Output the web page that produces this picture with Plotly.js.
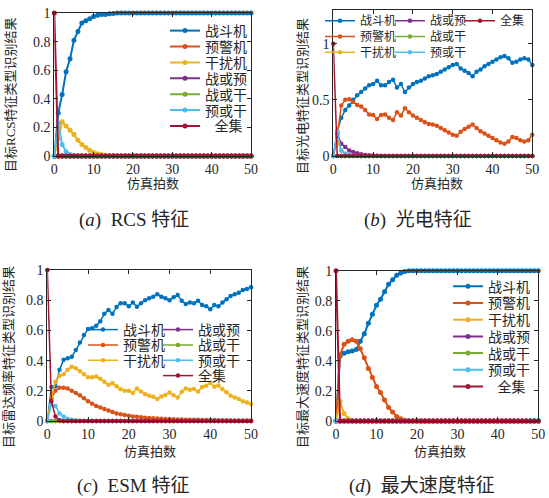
<!DOCTYPE html>
<html><head><meta charset="utf-8">
<script src="https://cdn.plot.ly/plotly-3.0.1.min.js"></script>
<style>html,body{margin:0;padding:0;background:#fff}#chart{width:549px;height:498px}</style>
</head><body><div id="chart"></div>
<script>
// ---------------- DATA ----------------
const steps = [0,1,2,3,4,5,6,7,8,9,10,11,12,13,14,15,16,17,18,19,20,21,22,23,24,25,26,27,28,29,30,31,32,33,34,35,36,37,38,39,40,41,42,43,44,45,46,47,48,49,50];
const seriesNames = ['战斗机','预警机','干扰机','战或预','战或干','预或干','全集'];
const xTicks = [0,10,20,30,40,50];
const yTicksA = [0,0.2,0.4,0.6,0.8,1];
const yTicksB = [0,0.5,1];
const captions = ['(<i>a</i>)\u00a0 RCS\u00a0特征','(<i>b</i>)\u00a0 光电特征','(<i>c</i>)\u00a0 ESM\u00a0特征','(<i>d</i>)\u00a0 最大速度特征'];
const yTitles = ['目标RCS特征类型识别结果','目标光电特征类型识别结果','目标雷达频率特征类型识别结果','目标最大速度特征类型识别结果'];
const xTitle = '仿真拍数';

// (a) RCS
const rcsFighter = [0,0.30,0.43,0.59,0.68,0.81,0.87,0.93,0.945,0.96, 0.975,0.985,0.99,0.99,0.995,0.997,1,1,1,1, 1,1,1,1,1,1,1,1,1,1, 1,1,1,1,1,1,1,1,1,1, 1,1,1,1,1,1,1,1,1,1, 1];
const rcsEarly   = [0,0,0,0,0,0,0,0,0,0, 0,0,0,0,0,0,0,0,0,0, 0,0,0,0,0,0,0,0,0,0, 0,0,0,0,0,0,0,0,0,0, 0,0,0,0,0,0,0,0,0,0, 0];
const rcsJammer  = [0,0.12,0.24,0.21,0.18,0.15,0.11,0.08,0.06,0.04, 0.025,0.015,0.01,0.006,0.004,0.002,0,0,0,0, 0,0,0,0,0,0,0,0,0,0, 0,0,0,0,0,0,0,0,0,0, 0,0,0,0,0,0,0,0,0,0, 0];
const rcsFE      = [0,0,0,0,0,0,0,0,0,0, 0,0,0,0,0,0,0,0,0,0, 0,0,0,0,0,0,0,0,0,0, 0,0,0,0,0,0,0,0,0,0, 0,0,0,0,0,0,0,0,0,0, 0];
const rcsFJ      = [0,0,0,0,0,0,0,0,0,0, 0,0,0,0,0,0,0,0,0,0, 0,0,0,0,0,0,0,0,0,0, 0,0,0,0,0,0,0,0,0,0, 0,0,0,0,0,0,0,0,0,0, 0];
const rcsEJ      = [0,0.23,0.08,0.03,0.01,0.003,0,0,0,0, 0,0,0,0,0,0,0,0,0,0, 0,0,0,0,0,0,0,0,0,0, 0,0,0,0,0,0,0,0,0,0, 0,0,0,0,0,0,0,0,0,0, 0];
const rcsAll     = [1,0,0,0,0,0,0,0,0,0, 0,0,0,0,0,0,0,0,0,0, 0,0,0,0,0,0,0,0,0,0, 0,0,0,0,0,0,0,0,0,0, 0,0,0,0,0,0,0,0,0,0, 0];

// (b) electro-optical
const eoFighter = [0,0.22,0.34,0.41,0.45,0.50,0.54,0.57,0.60,0.63, 0.64,0.67,0.63,0.63,0.66,0.68,0.61,0.64,0.57,0.61, 0.64,0.66,0.67,0.69,0.71,0.72,0.73,0.75,0.77,0.79, 0.81,0.82,0.78,0.76,0.74,0.71,0.75,0.77,0.80,0.82, 0.84,0.86,0.88,0.89,0.87,0.83,0.84,0.86,0.87,0.86, 0.81];
const eoEarly   = [0,0.18,0.45,0.50,0.505,0.48,0.455,0.44,0.41,0.37, 0.365,0.33,0.365,0.37,0.34,0.32,0.39,0.36,0.425,0.39, 0.36,0.34,0.32,0.30,0.285,0.28,0.27,0.25,0.23,0.21, 0.19,0.18,0.215,0.24,0.26,0.28,0.25,0.22,0.20,0.18, 0.16,0.14,0.12,0.11,0.13,0.17,0.16,0.14,0.13,0.14, 0.19];
const eoJammer  = [0,0.13,0.05,0.02,0.008,0.003,0,0,0,0, 0,0,0,0,0,0,0,0,0,0, 0,0,0,0,0,0,0,0,0,0, 0,0,0,0,0,0,0,0,0,0, 0,0,0,0,0,0,0,0,0,0, 0];
const eoFE      = [0,0.20,0.11,0.08,0.05,0.035,0.025,0.015,0.01,0.006, 0.004,0.002,0,0,0,0,0,0,0,0, 0,0,0,0,0,0,0,0,0,0, 0,0,0,0,0,0,0,0,0,0, 0,0,0,0,0,0,0,0,0,0, 0];
const eoFJ      = [0,0,0,0,0,0,0,0,0,0, 0,0,0,0,0,0,0,0,0,0, 0,0,0,0,0,0,0,0,0,0, 0,0,0,0,0,0,0,0,0,0, 0,0,0,0,0,0,0,0,0,0, 0];
const eoEJ      = [0,0.22,0.05,0.02,0.008,0.003,0,0,0,0, 0,0,0,0,0,0,0,0,0,0, 0,0,0,0,0,0,0,0,0,0, 0,0,0,0,0,0,0,0,0,0, 0,0,0,0,0,0,0,0,0,0, 0];
const eoAll     = [1,0,0,0,0,0,0,0,0,0, 0,0,0,0,0,0,0,0,0,0, 0,0,0,0,0,0,0,0,0,0, 0,0,0,0,0,0,0,0,0,0, 0,0,0,0,0,0,0,0,0,0, 0];

// (c) ESM
const esmFighter = [0,0.225,0.23,0.34,0.405,0.415,0.425,0.47,0.52,0.57, 0.61,0.615,0.63,0.66,0.71,0.735,0.71,0.755,0.78,0.78, 0.76,0.785,0.757,0.78,0.80,0.813,0.823,0.84,0.823,0.813, 0.80,0.82,0.834,0.797,0.775,0.784,0.78,0.797,0.768,0.76, 0.74,0.768,0.76,0.784,0.806,0.828,0.84,0.85,0.868,0.875, 0.885];
const esmEarly   = [0,0.15,0.20,0.22,0.22,0.215,0.20,0.185,0.17,0.15, 0.13,0.115,0.10,0.09,0.08,0.07,0.06,0.05,0.045,0.04, 0.035,0.03,0.028,0.025,0.022,0.02,0.018,0.016,0.015,0.014, 0.012,0.011,0.01,0.01,0.009,0.009,0.008,0.008,0.007,0.007, 0.006,0.006,0.005,0.005,0.005,0.004,0.004,0.004,0.003,0.003, 0.003];
const esmJammer  = [0,0.16,0.26,0.30,0.31,0.34,0.36,0.35,0.33,0.31, 0.29,0.29,0.295,0.28,0.26,0.24,0.25,0.23,0.21,0.20, 0.20,0.185,0.215,0.195,0.178,0.167,0.16,0.145,0.162,0.173, 0.188,0.17,0.156,0.193,0.216,0.207,0.212,0.195,0.225,0.233, 0.254,0.226,0.235,0.21,0.19,0.168,0.156,0.146,0.13,0.122, 0.112];
const esmFE      = [0,0,0,0,0,0,0,0,0,0, 0,0,0,0,0,0,0,0,0,0, 0,0,0,0,0,0,0,0,0,0, 0,0,0,0,0,0,0,0,0,0, 0,0,0,0,0,0,0,0,0,0, 0];
const esmFJ      = [0,0,0,0,0,0,0,0,0,0, 0,0,0,0,0,0,0,0,0,0, 0,0,0,0,0,0,0,0,0,0, 0,0,0,0,0,0,0,0,0,0, 0,0,0,0,0,0,0,0,0,0, 0];
const esmEJ      = [0,0.11,0.10,0.05,0.03,0.015,0.008,0.004,0.002,0, 0,0,0,0,0,0,0,0,0,0, 0,0,0,0,0,0,0,0,0,0, 0,0,0,0,0,0,0,0,0,0, 0,0,0,0,0,0,0,0,0,0, 0];
const esmAll     = [1,0.13,0.03,0.005,0,0,0,0,0,0, 0,0,0,0,0,0,0,0,0,0, 0,0,0,0,0,0,0,0,0,0, 0,0,0,0,0,0,0,0,0,0, 0,0,0,0,0,0,0,0,0,0, 0];

// (d) max speed
const spdFighter = [0,0.43,0.45,0.46,0.465,0.475,0.53,0.58,0.65,0.71, 0.77,0.81,0.86,0.91,0.94,0.97,0.985,0.995,1,1, 1,1,1,1,1,1,1,1,1,1, 1,1,1,1,1,1,1,1,1,1, 1,1,1,1,1,1,1,1,1,1, 1];
const spdEarly   = [0,0.44,0.51,0.53,0.54,0.53,0.48,0.42,0.35,0.29, 0.23,0.19,0.14,0.09,0.06,0.03,0.015,0.005,0,0, 0,0,0,0,0,0,0,0,0,0, 0,0,0,0,0,0,0,0,0,0, 0,0,0,0,0,0,0,0,0,0, 0];
const spdJammer  = [0,0.13,0.05,0.015,0.003,0,0,0,0,0, 0,0,0,0,0,0,0,0,0,0, 0,0,0,0,0,0,0,0,0,0, 0,0,0,0,0,0,0,0,0,0, 0,0,0,0,0,0,0,0,0,0, 0];
const spdFE      = [0,0,0,0,0,0,0,0,0,0, 0,0,0,0,0,0,0,0,0,0, 0,0,0,0,0,0,0,0,0,0, 0,0,0,0,0,0,0,0,0,0, 0,0,0,0,0,0,0,0,0,0, 0];
const spdFJ      = [0,0,0,0,0,0,0,0,0,0, 0,0,0,0,0,0,0,0,0,0, 0,0,0,0,0,0,0,0,0,0, 0,0,0,0,0,0,0,0,0,0, 0,0,0,0,0,0,0,0,0,0, 0];
const spdEJ      = [0,0,0,0,0,0,0,0,0,0, 0,0,0,0,0,0,0,0,0,0, 0,0,0,0,0,0,0,0,0,0, 0,0,0,0,0,0,0,0,0,0, 0,0,0,0,0,0,0,0,0,0, 0];
const spdAll     = [1,0,0,0,0,0,0,0,0,0, 0,0,0,0,0,0,0,0,0,0, 0,0,0,0,0,0,0,0,0,0, 0,0,0,0,0,0,0,0,0,0, 0,0,0,0,0,0,0,0,0,0, 0];

// ---------------- STYLE / LAYOUT ----------------
const colors = ['#0072BD','#D95319','#EDB120','#7E2F8E','#77AC30','#4DBEEE','#A2142F'];
const W = 549, H = 498;
const px = v => v / W, py = v => 1 - v / H;
const numFont = 'Liberation Serif, Times New Roman, serif';
const cjkFont = 'Liberation Serif, Noto Sans CJK SC, serif';
const legFont = 'Noto Sans CJK SC, sans-serif';
const txtColor = '#262626';

// legend entry positions (text start x, row centre y) in pixels, per panel, per series
const legPos = [
  [[205,31],[205,46.9],[205,62.8],[205,78.7],[205,94.6],[205,110.5],[205,126.4]],
  [[360,20.7],[360,36.5],[360,52.3],[430,20.7],[430,36.5],[430,52.3],[500,20.7]],
  [[123,330],[123,345.3],[123,360.6],[198,330],[198,345.3],[198,360.6],[198,376]],
  [[488,286.7],[488,303.4],[488,320.1],[488,336.8],[488,353.5],[488,370.2],[488,386.9]]
];
const legSize = [14,12,14,14];

const panels = [
  {ax:'', series:[rcsFighter,rcsEarly,rcsJammer,rcsFE,rcsFJ,rcsEJ,rcsAll], indentAll:true, lw:2, ms:5},
  {ax:'2', series:[eoFighter,eoEarly,eoJammer,eoFE,eoFJ,eoEJ,eoAll], indentAll:false, lw:1.5, ms:4.5},
  {ax:'3', series:[esmFighter,esmEarly,esmJammer,esmFE,esmFJ,esmEJ,esmAll], indentAll:false, lw:1.5, ms:4.5},
  {ax:'4', series:[spdFighter,spdEarly,spdJammer,spdFE,spdFJ,spdEJ,spdAll], indentAll:true, lw:2, ms:5}
];

const layout = {
  width:W, height:H, margin:{l:0,r:0,t:0,b:0}, paper_bgcolor:'#fff', plot_bgcolor:'#fff', showlegend:true
};

const traces = [];
let legIdx = 0;
panels.forEach((p, pi) => {
  p.series.forEach((vals, i) => {
    let name = seriesNames[i];
    if (i === 6 && p.indentAll) name = '\u00a0\u00a0\u00a0' + name;
    legIdx++;
    const key = legIdx === 1 ? 'legend' : 'legend' + legIdx;
    const pos = legPos[pi][i];
    layout[key] = {x:px(pos[0]-40), y:py(pos[1]), xanchor:'left', yanchor:'middle', orientation:'v',
      bgcolor:'rgba(0,0,0,0)', borderwidth:0, tracegroupgap:0, itemwidth:30,
      font:{family:legFont, size:legSize[pi], color:txtColor}};
    traces.push({
      type:'scatter', mode:'lines+markers', x:steps, y:vals, name:name,
      xaxis:'x'+p.ax, yaxis:'y'+p.ax, legend:key, cliponaxis:false,
      line:{color:colors[i], width:p.lw}, marker:{color:colors[i], size:p.ms, symbol:'circle'}
    });
  });
});

const axBase = {showline:true, mirror:'ticks', linecolor:txtColor, linewidth:1, ticks:'inside', ticklen:4,
  tickcolor:txtColor, showgrid:false, zeroline:false, fixedrange:true,
  tickfont:{family:numFont, size:14, color:txtColor}};
const xa = (d, anchor) => Object.assign({}, axBase, {domain:d, anchor:anchor, range:[0,50], tickvals:xTicks});
const ya = (d, anchor, r, tv) => Object.assign({}, axBase, {domain:d, anchor:anchor, range:r, tickvals:tv});
Object.assign(layout, {
  xaxis: xa([px(54.3),px(251)],'y'),     yaxis: ya([py(156),py(13)],'x',[0,1],yTicksA),
  xaxis2:xa([px(333.3),px(532.3)],'y2'), yaxis2:ya([py(156),py(10)],'x2',[0,1.3],yTicksB),
  xaxis3:xa([px(47.3),px(251)],'y3'),    yaxis3:ya([py(421),py(270)],'x3',[0,1],yTicksA),
  xaxis4:xa([px(336),px(538.3)],'y4'),   yaxis4:ya([py(421),py(270.7)],'x4',[0,1],yTicksA)
});

const ann = [];
const yT = [[10,95],[303,96],[8,357],[302,357]];
yT.forEach((p,i)=>ann.push({text:yTitles[i], x:px(p[0]), y:py(p[1]), xref:'paper', yref:'paper', showarrow:false,
  textangle:-90, xanchor:'center', yanchor:'middle', font:{family:cjkFont, size:13, color:txtColor}}));
const xT = [[153,183],[437,183],[150,451],[440,451]];
xT.forEach(p=>ann.push({text:xTitle, x:px(p[0]), y:py(p[1]), xref:'paper', yref:'paper', showarrow:false,
  xanchor:'center', yanchor:'middle', font:{family:cjkFont, size:13, color:txtColor}}));
const cT = [[134,220],[418,220],[133,486],[422,486]];
cT.forEach((p,i)=>ann.push({text:captions[i], x:px(p[0]), y:py(p[1]), xref:'paper', yref:'paper', showarrow:false,
  xanchor:'center', yanchor:'middle', font:{family:cjkFont, size:19, color:txtColor}}));
layout.annotations = ann;

Plotly.newPlot('chart', traces, layout, {displayModeBar:false, staticPlot:true});
</script></body></html>
